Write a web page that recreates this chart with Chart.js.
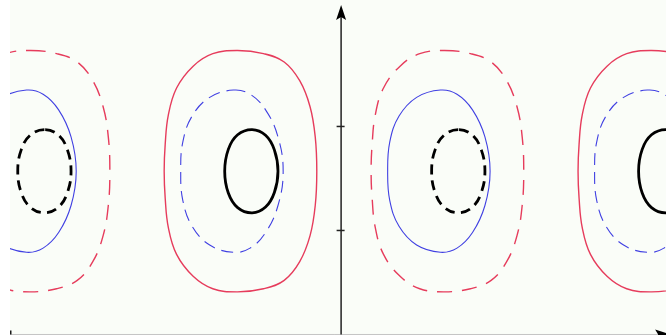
<!DOCTYPE html>
<html>
<head>
<meta charset="utf-8">
<script src="https://cdn.jsdelivr.net/npm/chart.js@4.4.0/dist/chart.umd.min.js"></script>
<style>
  html, body { margin: 0; padding: 0; background: #ffffff; }
  canvas { display: block; }
</style>
</head>
<body>
<canvas id="cells" width="666" height="335"></canvas>
<script>
// one cell of the pattern, x measured from the cell centre (rings are closed loops)
const outerX = [0.00, 0.25, 0.45, 0.60, 0.70, 0.75, 0.765, 0.75, 0.70, 0.60, 0.45, 0.25, 0.00, -0.24, -0.43, -0.59, -0.67, -0.70, -0.71, -0.70, -0.67, -0.59, -0.43, -0.24];
const outerY = [2.73, 2.70, 2.62, 2.44, 2.19, 1.90, 1.57, 1.24, 0.95, 0.70, 0.52, 0.44, 0.41, 0.44, 0.56, 0.77, 1.03, 1.31, 1.57, 1.83, 2.11, 2.37, 2.58, 2.70];
const middleX = [-0.04, 0.12, 0.27, 0.39, 0.44, 0.39, 0.27, 0.12, -0.04, -0.27, -0.44, -0.53, -0.55, -0.53, -0.44, -0.27];
const middleY = [2.35, 2.31, 2.16, 1.90, 1.57, 1.24, 0.98, 0.83, 0.79, 0.86, 1.04, 1.29, 1.57, 1.85, 2.10, 2.28];
const innerX = [0.14, 0.27, 0.355, 0.39, 0.355, 0.27, 0.14, 0.00, -0.09, -0.125, -0.09, 0.00];
const innerY = [1.97, 1.915, 1.775, 1.57, 1.365, 1.225, 1.17, 1.22, 1.36, 1.57, 1.78, 1.92];

const cellCentres = [-3, -1, 1, 3];
// outer, middle, inner ring dashed?
const dashedRings = [
    [true, false, true],
    [false, true, false],
    [true, false, true],
    [false, true, false]
];
const yTicks = [1, 2];
const xArrowTip = 3.18;
const yArrowTip = 3.168;

const ringStyles = [
    { xs: outerX, ys: outerY, color: '#e63c5c', width: 1.4, dash: [15, 10] },
    { xs: middleX, ys: middleY, color: '#4040e2', width: 1.1, dash: [12, 7] },
    { xs: innerX, ys: innerY, color: '#000000', width: 2.8, dash: [10, 6] }
];

const datasets = [];
cellCentres.forEach((cx, c) => {
    ringStyles.forEach((ring, r) => {
        datasets.push({
            data: ring.xs.map((dx, i) => ({ x: cx + dx, y: ring.ys[i] })),
            showLine: true,
            borderColor: ring.color,
            borderWidth: ring.width,
            borderDash: dashedRings[c][r] ? ring.dash : [],
            pointRadius: 0,
            tension: 0.4,
            fill: false
        });
    });
});

const paperPlugin = {
    id: 'paper',
    beforeDraw(chart) {
        const { ctx, chartArea } = chart;
        ctx.save();
        ctx.fillStyle = '#fafdf8';
        ctx.fillRect(chartArea.left, chartArea.top, chartArea.right - chartArea.left, chartArea.bottom - chartArea.top);
        ctx.restore();
    }
};

// close every ring the way the radar controller does
const closedRings = {
    id: 'closedRings',
    afterDatasetsUpdate(chart) {
        chart.getSortedVisibleDatasetMetas().forEach(meta => {
            meta.dataset._loop = true;
            meta.dataset._fullLoop = true;
        });
    }
};

function arrowHead(ctx, tx, ty, ux, uy) {
    // ux, uy: unit vector pointing along the arrow
    const len = 15, half = 5;
    const bx = tx - ux * len, by = ty - uy * len;
    ctx.beginPath();
    ctx.moveTo(tx, ty);
    ctx.lineTo(bx - uy * half, by + ux * half);
    ctx.lineTo(tx - ux * (len - 3), ty - uy * (len - 3));
    ctx.lineTo(bx + uy * half, by - ux * half);
    ctx.closePath();
    ctx.fill();
}

const axesPlugin = {
    id: 'arrowAxes',
    afterDatasetsDraw(chart) {
        const { ctx, scales: { x, y } } = chart;
        const x0 = x.getPixelForValue(0);
        const y0 = y.getPixelForValue(0);
        const top = y.getPixelForValue(yArrowTip);
        const right = x.getPixelForValue(xArrowTip);
        ctx.save();
        ctx.lineWidth = 1;
        ctx.strokeStyle = '#c4c4c4';
        ctx.beginPath();
        ctx.moveTo(x.left, y0);
        ctx.lineTo(right - 12, y0);
        ctx.stroke();
        ctx.fillStyle = '#1a1a1a';
        ctx.fillRect(x.left, y0 - 4, 1.5, 4);

        ctx.strokeStyle = '#222222';
        ctx.lineWidth = 1.5;
        ctx.beginPath();
        ctx.moveTo(x0, y0);
        ctx.lineTo(x0, top + 12);
        ctx.stroke();
        yTicks.forEach(v => {
            const py = y.getPixelForValue(v);
            ctx.beginPath();
            ctx.moveTo(x0 - 4.5, py);
            ctx.lineTo(x0 + 3.5, py);
            ctx.stroke();
        });
        ctx.fillStyle = '#000000';
        arrowHead(ctx, x0, top, 0, -1);
        arrowHead(ctx, right, y0, 1, 0);
        ctx.restore();
    }
};

new Chart(document.getElementById('cells'), {
    type: 'scatter',
    data: { datasets: datasets },
    options: {
        responsive: false,
        animation: false,
        layout: { padding: { left: 10, right: 0, top: 0, bottom: 0 } },
        plugins: {
            legend: { display: false },
            tooltip: { enabled: false }
        },
        elements: {
            line: { capBezierPoints: false }
        },
        scales: {
            x: { type: 'linear', display: false, min: -3.2, max: 3.14 },
            y: { type: 'linear', display: false, min: -0.005, max: 3.216 }
        }
    },
    plugins: [paperPlugin, closedRings, axesPlugin]
});
</script>
</body>
</html>
